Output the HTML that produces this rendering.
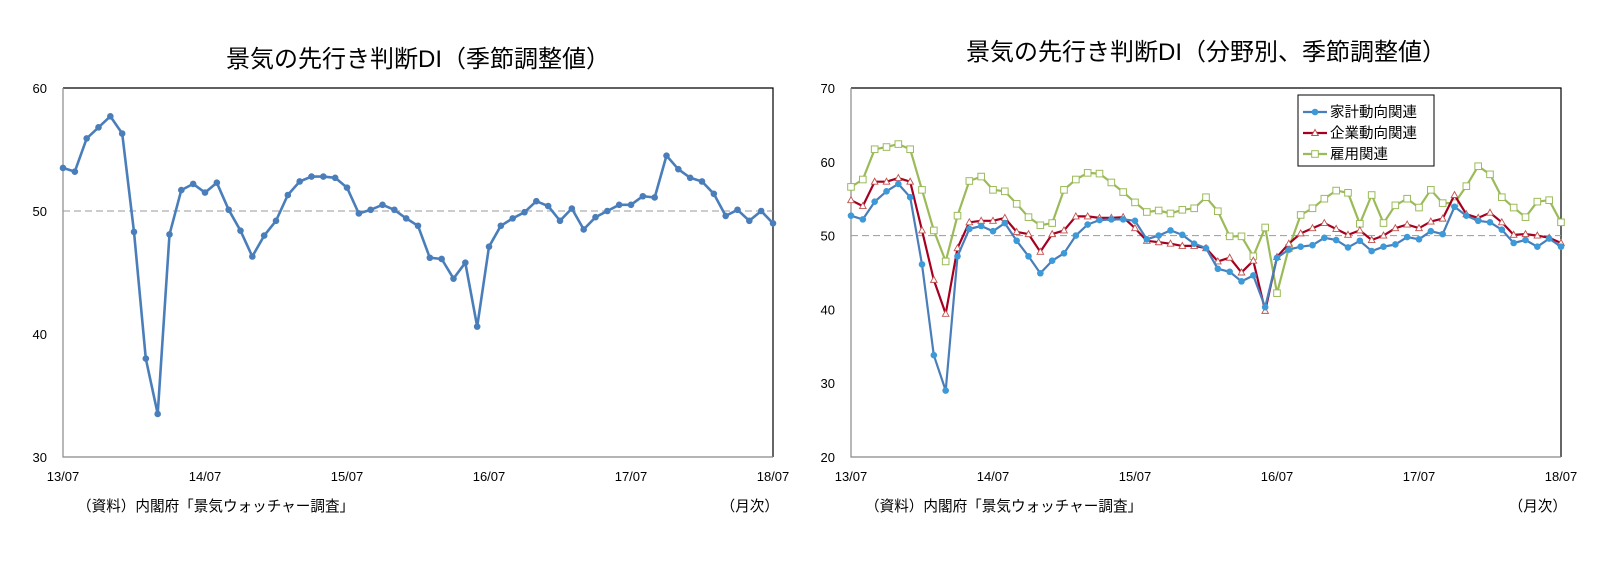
<!DOCTYPE html>
<html><head><meta charset="utf-8">
<style>
body{margin:0;background:#fff;}
svg{display:block;font-family:"Liberation Sans","Noto Sans CJK JP",sans-serif;}
</style></head>
<body>
<svg id="c" width="1619" height="562" viewBox="0 0 1619 562"></svg>
<script>
const xLabels = ["13/07","14/07","15/07","16/07","17/07","18/07"];
const leftTicks = [30,40,50,60];
const rightTicks = [20,30,40,50,60,70];
const leftSeries = [53.5,53.2,55.9,56.8,57.7,56.3,48.3,38.0,33.5,48.1,51.7,52.2,51.5,52.3,50.1,48.4,46.3,48.0,49.2,51.3,52.4,52.8,52.8,52.7,51.9,49.8,50.1,50.5,50.1,49.4,48.8,46.2,46.1,44.5,45.8,40.6,47.1,48.8,49.4,49.9,50.8,50.4,49.2,50.2,48.5,49.5,50.0,50.5,50.5,51.2,51.1,54.5,53.4,52.7,52.4,51.4,49.6,50.1,49.2,50.0,49.0];
const householdSeries = [52.7,52.2,54.6,56.0,57.0,55.2,46.1,33.8,29.0,47.2,50.9,51.3,50.6,51.7,49.3,47.2,44.9,46.6,47.6,50.0,51.5,52.1,52.2,52.2,52.0,49.5,50.0,50.7,50.1,48.9,48.3,45.5,45.1,43.8,44.6,40.3,47.0,48.1,48.5,48.7,49.7,49.4,48.4,49.3,47.9,48.5,48.8,49.8,49.5,50.6,50.2,53.9,52.7,52.0,51.8,50.8,49.0,49.4,48.5,49.6,48.5];
const corporateSeries = [54.8,54.0,57.3,57.3,57.8,57.3,50.7,44.0,39.4,48.3,51.8,52.0,52.0,52.4,50.5,50.2,47.8,50.2,50.7,52.6,52.6,52.4,52.4,52.5,51.0,49.3,49.1,48.9,48.6,48.6,48.3,46.5,47.0,45.0,46.6,39.8,47.1,48.9,50.3,51.0,51.7,50.9,50.1,50.7,49.4,50.0,51.0,51.5,51.0,51.9,52.3,55.5,52.9,52.4,53.1,51.8,50.1,50.2,50.0,49.7,49.0];
const employmentSeries = [56.6,57.6,61.7,62.0,62.4,61.7,56.2,50.7,46.5,52.7,57.4,58.0,56.2,56.0,54.3,52.5,51.4,51.7,56.2,57.6,58.5,58.4,57.2,55.9,54.5,53.2,53.4,53.0,53.5,53.7,55.2,53.3,49.9,49.9,47.2,51.1,42.2,48.3,52.8,53.7,55.0,56.1,55.8,51.6,55.5,51.7,54.1,55.0,53.8,56.2,54.4,54.4,56.7,59.4,58.3,55.2,53.8,52.5,54.6,54.8,51.8,52.7];
</script>
<script>
const NS="http://www.w3.org/2000/svg";
const svg=document.getElementById('c');
function mk(tag,attrs,parent){const e=document.createElementNS(NS,tag);for(const k in attrs)e.setAttribute(k,attrs[k]);(parent||svg).appendChild(e);return e;}
function txt(x,y,s,size,anchor,parent){const t=mk('text',{x:x,y:y,'font-size':size,'text-anchor':anchor||'middle',fill:'#000'},parent);t.textContent=s;return t;}

function drawChart(cfg){
  const g=mk('g',{});
  
  
  const x0=cfg.x0,x1=cfg.x1,y0=cfg.y0,y1=cfg.y1;
  const n=60;
  const xs=i=>x0+(x1-x0)*i/n;
  const ys=v=>y1-(v-cfg.min)/(cfg.max-cfg.min)*(y1-y0);
  const title=txt((x0+x1)/2,cfg.titleY,cfg.title,24,'middle',g);
  
  
  mk('path',{d:`M${x0},${y0}H${x1}V${y1}`,stroke:'#000','stroke-width':1.2,fill:'none'},g);
  const ax=mk('path',{d:`M${x0},${y0}V${y1}H${x1}`,stroke:'#888','stroke-width':1.2,fill:'none'},g);
  
  
  const ref=mk('line',{x1:x0,x2:x1,y1:ys(50),y2:ys(50),stroke:'#999','stroke-width':1,'stroke-dasharray':'7,4'},g);
  
  
  cfg.ticks.forEach(t=>{
    const e=txt(x0-16,ys(t)+5,String(t),13,'end',g);
    
    
  });
  xLabels.forEach((l,i)=>{
    const e=txt(xs(i*12),y1+24,l,13,'middle',g);
    
    
  });
  const src=txt(cfg.srcX,511,'（資料）内閣府「景気ウォッチャー調査」',14.6,'start',g);
  
  
  const unit=txt(x1+6,511,'（月次）',14.6,'end',g);
  
  
  cfg.series.forEach(s=>{
    const sg=mk('g',{},g);
    
    
    const pts=s.data.slice(0,n+1).map((v,i)=>`${xs(i).toFixed(1)},${ys(v).toFixed(1)}`).join(' ');
    mk('polyline',{points:pts,fill:'none',stroke:s.color,'stroke-width':s.w,'stroke-linejoin':'round'},sg);
    s.data.slice(0,n+1).forEach((v,i)=>{
      const X=xs(i),Y=ys(v);let m;
      if(s.marker==='dot')m=mk('circle',{cx:X,cy:Y,r:3.3,fill:s.mcolor},sg);
      else if(s.marker==='tri')m=mk('path',{d:`M${X},${Y-3.5}L${X+3.3},${Y+2.5}L${X-3.3},${Y+2.5}Z`,fill:'#fff',stroke:s.mcolor,'stroke-width':0.9},sg);
      else m=mk('rect',{x:X-3.3,y:Y-3.3,width:6.6,height:6.6,fill:'#fff',stroke:s.mcolor,'stroke-width':1},sg);
      
      
    });
  });
  return {g,xs,ys};
}

drawChart({name:'left-chart',x0:63,x1:773,y0:88,y1:457,min:30,max:60,ticks:leftTicks,titleY:67,
  title:'景気の先行き判断DI（季節調整値）',srcX:77,
  series:[{name:'series-overall',data:leftSeries,color:'#4A7EBB',mcolor:'#4A7EBB',w:2.6,marker:'dot'}]});

drawChart({name:'right-chart',x0:851,x1:1561,y0:88,y1:457,min:20,max:70,ticks:rightTicks,titleY:60,
  title:'景気の先行き判断DI（分野別、季節調整値）',srcX:865,
  series:[
    {name:'series-employment',data:employmentSeries,color:'#9BBB59',mcolor:'#9BBB59',w:2.2,marker:'sq'},
    {name:'series-corporate',data:corporateSeries,color:'#A50021',mcolor:'#C0504D',w:2.2,marker:'tri'},
    {name:'series-household',data:householdSeries,color:'#4A7EBB',mcolor:'#3C9AD8',w:2.2,marker:'dot'}
  ]});

const lg=mk('g',{});


mk('rect',{x:1298,y:95,width:136,height:71,fill:'#fff',stroke:'#000','stroke-width':1},lg);
const leg=[['家計動向関連','#4A7EBB','dot','#3C9AD8'],['企業動向関連','#A50021','tri','#C0504D'],['雇用関連','#9BBB59','sq','#9BBB59']];
leg.forEach((l,i)=>{
  const e=mk('g',{},lg);
  
  
  const y=112+i*21;
  mk('line',{x1:1303,x2:1327,y1:y,y2:y,stroke:l[1],'stroke-width':2.2},e);
  const X=1315;
  if(l[2]==='dot')mk('circle',{cx:X,cy:y,r:3.3,fill:l[3]},e);
  else if(l[2]==='tri')mk('path',{d:`M${X},${y-3.5}L${X+3.3},${y+2.5}L${X-3.3},${y+2.5}Z`,fill:'#fff',stroke:l[3]},e);
  else mk('rect',{x:X-3.3,y:y-3.3,width:6.6,height:6.6,fill:'#fff',stroke:l[3]},e);
  txt(1330,y+5,l[0],14.5,'start',e);
});
</script>
</body></html>
